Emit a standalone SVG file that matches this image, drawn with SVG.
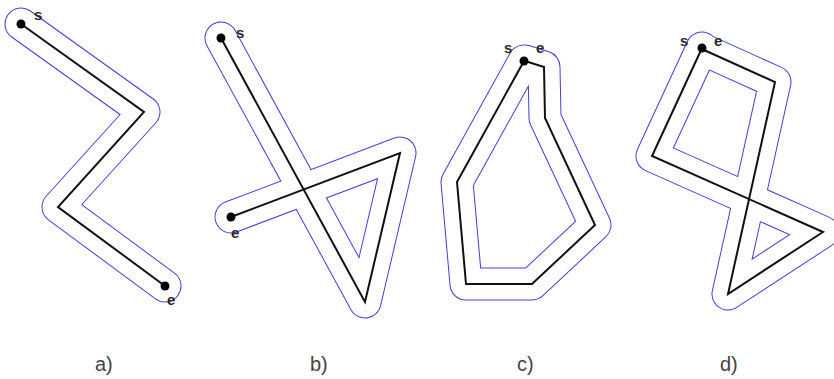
<svg xmlns="http://www.w3.org/2000/svg" xmlns:xlink="http://www.w3.org/1999/xlink" width="834" height="379" viewBox="0 0 834 379">
<style>
.bufo{fill:none;stroke:#4040dc;stroke-width:33;stroke-linejoin:round;stroke-linecap:round}
.bufi{fill:none;stroke:#ffffff;stroke-width:31;stroke-linejoin:round;stroke-linecap:round}
.path{fill:none;stroke:#111111;stroke-width:2;stroke-linejoin:miter;stroke-linecap:butt}
.dot{fill:#000000}
.se{font-family:"Liberation Sans",Arial,sans-serif;font-size:15px;font-weight:bold;fill:#2a2a2a}
.cap{font-family:"Liberation Sans",Arial,sans-serif;font-size:20px;fill:#444444}
</style>
<defs>
<path id="pa" d="M21,24 L144,112 L58,207 L165,286"/>
<path id="pb" d="M221,38 L365,302 L400,153 L231,217"/>
<path id="pc" d="M524,61 L457,182 L466,284 L532,284 L595,225 L545,118 L544,67 L525,61"/>
<path id="pd" d="M702,48 L652,156 L823,232 L728,294 L775,82 L704,50"/>
</defs>
<rect width="834" height="379" fill="#ffffff"/>
<g id="panel-a">
<use xlink:href="#pa" class="bufo"/>
<use xlink:href="#pa" class="bufi"/>
<use xlink:href="#pa" class="path"/>
<circle class="dot" cx="21" cy="24" r="4.5"/>
<circle class="dot" cx="165" cy="286" r="4.5"/>
<text class="se" x="34" y="20">s</text>
<text class="se" x="167" y="305">e</text>
<text class="cap" x="95" y="371">a)</text>
</g>
<g id="panel-b">
<use xlink:href="#pb" class="bufo"/>
<use xlink:href="#pb" class="bufi"/>
<use xlink:href="#pb" class="path"/>
<circle class="dot" cx="221" cy="38" r="4.5"/>
<circle class="dot" cx="231" cy="217" r="4.5"/>
<text class="se" x="236" y="38">s</text>
<text class="se" x="231" y="238">e</text>
<text class="cap" x="310" y="371">b)</text>
</g>
<g id="panel-c">
<use xlink:href="#pc" class="bufo"/>
<use xlink:href="#pc" class="bufi"/>
<use xlink:href="#pc" class="path"/>
<circle class="dot" cx="524" cy="61" r="4.5"/>
<text class="se" x="504" y="53">s</text>
<text class="se" x="536" y="53">e</text>
<text class="cap" x="517" y="371">c)</text>
</g>
<g id="panel-d">
<use xlink:href="#pd" class="bufo"/>
<use xlink:href="#pd" class="bufi"/>
<use xlink:href="#pd" class="path"/>
<circle class="dot" cx="702" cy="48" r="4.5"/>
<text class="se" x="680" y="46">s</text>
<text class="se" x="714" y="46">e</text>
<text class="cap" x="720" y="371">d)</text>
</g>
</svg>
